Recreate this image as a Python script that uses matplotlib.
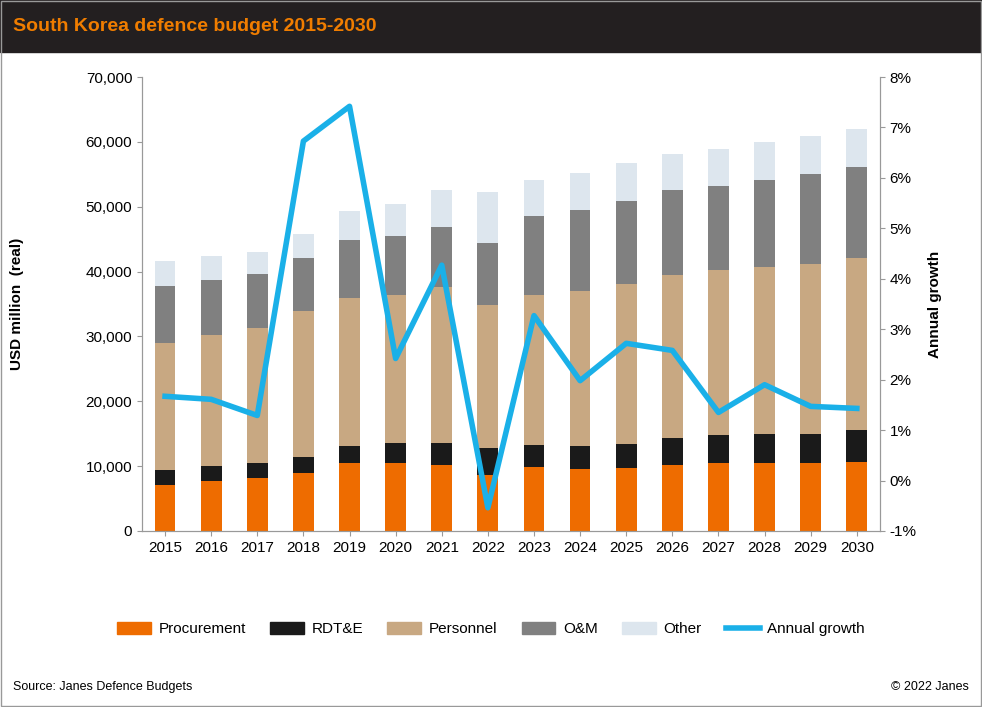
import numpy as np
import matplotlib.pyplot as plt
from matplotlib.patches import Rectangle

plt.rcParams['font.family'] = ['Liberation Sans', 'DejaVu Sans']

years = [str(y) for y in range(2015, 2031)]
procurement = [7100, 7700, 8200, 8900, 10500, 10500, 10200, 8600, 9900, 9600, 9700, 10200, 10500, 10500, 10500, 10600]
rdte_top = [9400, 10000, 10500, 11400, 13100, 13600, 13600, 12800, 13300, 13100, 13400, 14300, 14800, 15000, 15000, 15600]
personnel_top = [29000, 30200, 31300, 33900, 35900, 36400, 37600, 34800, 36400, 37000, 38100, 39500, 40200, 40700, 41200, 42100]
om_top = [37800, 38700, 39600, 42100, 44900, 45500, 46900, 44400, 48600, 49500, 50900, 52600, 53200, 54100, 55000, 56100]
total = [41600, 42400, 43000, 45800, 49300, 50400, 52600, 52300, 54100, 55200, 56700, 58100, 58900, 60000, 60900, 62000]
growth = [1.67, 1.61, 1.29, 6.73, 7.42, 2.42, 4.27, -0.54, 3.27, 1.98, 2.72, 2.58, 1.35, 1.90, 1.47, 1.43]

proc = np.array(procurement)
rdte = np.array(rdte_top) - proc
pers = np.array(personnel_top) - np.array(rdte_top)
om = np.array(om_top) - np.array(personnel_top)
other = np.array(total) - np.array(om_top)

c_proc, c_rdte, c_pers, c_om, c_other, c_line = '#ee6c00', '#1a1a1a', '#c8a882', '#808080', '#dde6ee', '#1ab0e8'

fig = plt.figure(figsize=(9.82, 7.07), dpi=100)
fig.patches.append(Rectangle((0, 0.927), 1, 0.073, transform=fig.transFigure, color='#231f20', zorder=0))
fig.patches.append(Rectangle((0.001, 0.001), 0.998, 0.998, transform=fig.transFigure, fill=False, edgecolor='#999999', lw=1))
fig.text(0.013, 0.963, 'South Korea defence budget 2015-2030', color='#f07d00', fontsize=14, fontweight='bold', va='center')

ax = fig.add_axes([0.1446, 0.249, 0.7514, 0.642])
x = np.arange(len(years))
w = 0.45
ax.bar(x, proc, w, color=c_proc)
ax.bar(x, rdte, w, bottom=proc, color=c_rdte)
ax.bar(x, pers, w, bottom=rdte_top, color=c_pers)
ax.bar(x, om, w, bottom=personnel_top, color=c_om)
ax.bar(x, other, w, bottom=om_top, color=c_other)
ax.set_xlim(-0.5, len(years) - 0.5)
ax.set_ylim(0, 70000)
ax.set_yticks(range(0, 70001, 10000))
ax.set_yticklabels([f'{v:,}' for v in range(0, 70001, 10000)], fontsize=11)
ax.set_xticks(x)
ax.set_xticklabels(years, fontsize=11)
ax.set_ylabel('USD million  (real)', fontsize=11, fontweight='bold', labelpad=45)
ax.yaxis.set_label_coords(-0.16, 0.5)
ax.spines['top'].set_visible(False)
for s in ['left', 'right', 'bottom']:
    ax.spines[s].set_color('#999999')
ax.tick_params(colors='#999999', labelcolor='black')

ax2 = ax.twinx()
ax2.plot(x, growth, color=c_line, lw=4)
ax2.set_ylim(-1, 8)
ax2.set_yticks(range(-1, 9))
ax2.set_yticklabels([f'{v}%' for v in range(-1, 9)], fontsize=11)
ax2.set_ylabel('Annual growth', fontsize=11, fontweight='bold', labelpad=8)
ax2.spines['top'].set_visible(False)
for s in ['left', 'right', 'bottom']:
    ax2.spines[s].set_color('#999999')
ax2.tick_params(colors='#999999', labelcolor='black')

handles = [Rectangle((0, 0), 1, 1, color=c) for c in [c_proc, c_rdte, c_pers, c_om, c_other]]
handles.append(plt.Line2D([0], [0], color=c_line, lw=4))
fig.legend(handles, ['Procurement', 'RDT&E', 'Personnel', 'O&M', 'Other', 'Annual growth'],
           loc='center', bbox_to_anchor=(0.5, 0.11), ncol=6, frameon=False, fontsize=11,
           handlelength=2.2, handleheight=0.8, handletextpad=0.5, columnspacing=1.6)

fig.text(0.013, 0.028, 'Source: Janes Defence Budgets', fontsize=9, va='center')
fig.text(0.987, 0.028, '© 2022 Janes', fontsize=9, va='center', ha='right')

fig.savefig('out.png', dpi=100)
